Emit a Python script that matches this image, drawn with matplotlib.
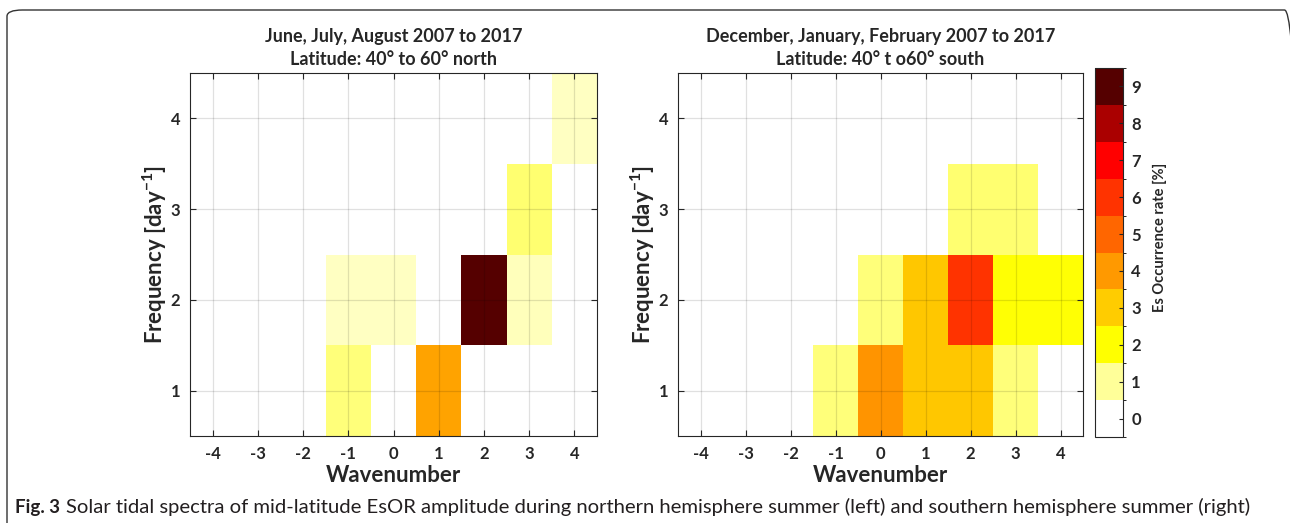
import numpy as np
import matplotlib
matplotlib.use("Agg")
import matplotlib.pyplot as plt
from matplotlib.colors import LinearSegmentedColormap, ListedColormap, BoundaryNorm, Normalize
from matplotlib.patches import FancyBboxPatch
import matplotlib.cm as cm

# ---- data ----
wavenumbers = [-4, -3, -2, -1, 0, 1, 2, 3, 4]
frequencies = [1, 2, 3, 4]
# rows: frequency 1..4, columns: wavenumber -4..4  (Es occurrence rate [%])
jja_north = [
    [0, 0, 0, 1.2, 0, 3.8, 0, 0, 0],
    [0, 0, 0, 0.6, 0.6, 0, 9.0, 0.7, 0],
    [0, 0, 0, 0, 0, 0, 0, 1.3, 0],
    [0, 0, 0, 0, 0, 0, 0, 0, 0.6],
]
djf_south = [
    [0, 0, 0, 1.2, 4.1, 3.1, 3.1, 1.2, 0],
    [0, 0, 0, 0, 1.2, 3.1, 6.0, 2.0, 2.0],
    [0, 0, 0, 0, 0, 0, 1.3, 1.3, 0],
    [0, 0, 0, 0, 0, 0, 0, 0, 0],
]
cbar_levels = [0, 1, 2, 3, 4, 5, 6, 7, 8, 9]
level_colors = ["#ffffff", "#ffff99", "#ffff00", "#ffcc00", "#ff9900",
                "#ff6600", "#ff3300", "#ff0000", "#aa0000", "#550000"]
titles = ["June, July, August 2007 to 2017\nLatitude: 40° to 60° north",
          "December, January, February 2007 to 2017\nLatitude: 40° t o60° south"]
caption_bold = "Fig. 3"
caption_text = ("Solar tidal spectra of mid-latitude EsOR amplitude during northern "
                "hemisphere summer (left) and southern hemisphere summer (right)")

# ---- styling ----
plt.rcParams['font.family'] = ['Lato', 'DejaVu Sans']
plt.rcParams['mathtext.fontset'] = 'custom'
plt.rcParams['mathtext.bf'] = 'Lato:bold'
plt.rcParams['mathtext.rm'] = 'Lato'
plt.rcParams['axes.unicode_minus'] = False
W, H = 1290, 523
fig = plt.figure(figsize=(W / 100, H / 100), dpi=100)
fig.patch.set_facecolor("white")

# rounded frame
frame = FancyBboxPatch((7 / W, -6 / H), (1300 - 7) / W, (519) / H,
                       boxstyle="round,pad=0,rounding_size=0.012",
                       transform=fig.transFigure, fill=False,
                       edgecolor="#333333", linewidth=1.0, clip_on=False)
fig.patches.append(frame)

cont_cmap = LinearSegmentedColormap.from_list(
    "es", [(v / 9.0, c) for v, c in zip(cbar_levels, level_colors)])
cont_norm = Normalize(0, 9)

xe = np.arange(len(wavenumbers) + 1) - 4.5
ye = np.arange(len(frequencies) + 1) + 0.5
TXT = "#262626"

def style_ax(ax):
    ax.set_xlim(-4.5, 4.5)
    ax.set_ylim(0.5, 4.5)
    ax.set_xticks(wavenumbers)
    ax.set_yticks(frequencies)
    ax.tick_params(direction="in", length=4, width=0.8, top=True, right=True,
                   labelsize=12, colors=TXT, pad=7)
    for lab in ax.get_xticklabels() + ax.get_yticklabels():
        lab.set_fontweight("bold")
    ax.grid(True, color="#000000", alpha=0.12, linewidth=0.9)
    ax.set_axisbelow(False)
    for s in ax.spines.values():
        s.set_color(TXT)
        s.set_linewidth(0.8)
    ax.set_xlabel("Wavenumber", fontsize=16, fontweight="bold", color=TXT, labelpad=2)

ax1 = fig.add_axes([190 / W, (H - 436) / H, (597 - 190) / W, 363 / H])
ax2 = fig.add_axes([678 / W, (H - 436) / H, (1083 - 678) / W, 363 / H])
for ax, data, title in [(ax1, jja_north, titles[0]), (ax2, djf_south, titles[1])]:
    ax.pcolormesh(xe, ye, np.array(data), cmap=cont_cmap, norm=cont_norm,
                  shading="flat", zorder=0.5)
    style_ax(ax)
    ax.set_title(title, fontsize=13, fontweight="bold", color=TXT,
                 pad=6, linespacing=1.4)
    ax.set_ylabel("Frequency [day$^{\\mathbf{-1}}$]", fontsize=16,
                  fontweight="bold", color=TXT, labelpad=1)

# colorbar (discrete levels)
cax = fig.add_axes([1095 / W, (H - 437) / H, 28 / W, 369 / H])
disc_cmap = ListedColormap(level_colors)
bounds = np.arange(len(cbar_levels) + 1) - 0.5
disc_norm = BoundaryNorm(bounds, disc_cmap.N)
sm = cm.ScalarMappable(norm=disc_norm, cmap=disc_cmap)
cb = fig.colorbar(sm, cax=cax, ticks=cbar_levels)
cb.outline.set_edgecolor(TXT)
cb.outline.set_linewidth(0.8)
cax.tick_params(direction="in", length=3, width=0.8, labelsize=12,
                colors=TXT, pad=6)
for lab in cax.get_yticklabels():
    lab.set_fontweight("bold")
cb.set_label("Es Occurrence rate [%]", fontsize=10.5, fontweight="bold",
             color=TXT, labelpad=3)
cb.ax.yaxis.set_label_coords(2.05, 0.54)

# caption
fig.text(15 / W, (H - 507) / H, caption_bold, fontsize=13.5, fontweight="bold",
         color="#231f20", va="center")
fig.text(66 / W, (H - 507) / H, caption_text,
         fontsize=14.6, color="#231f20", va="center")

fig.savefig("out.png", dpi=100, facecolor="white")
